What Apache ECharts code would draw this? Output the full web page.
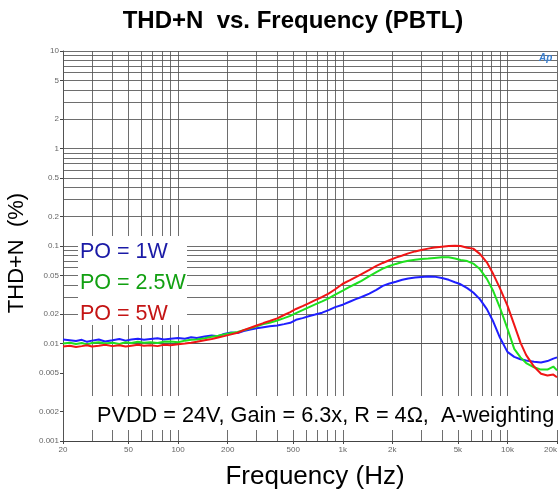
<!DOCTYPE html>
<html>
<head>
<meta charset="utf-8">
<script src="https://cdn.jsdelivr.net/npm/echarts@6/dist/echarts.min.js"></script>
<style>
html,body{margin:0;padding:0;background:#fff;}
#c{width:560px;height:492px;}
</style>
</head>
<body>
<div id="c"></div>
<script>
const freq = [20,22,24,26,28,30,33,36,40,44,48,52,57,62,68,75,82,90,100,110,120,130,145,160,175,190,210,230,250,275,300,330,360,400,440,480,520,570,620,680,750,820,900,1000,1100,1200,1300,1450,1600,1750,1900,2100,2300,2500,2750,3000,3300,3600,4000,4400,4800,5200,5700,6200,6800,7500,8200,9000,10000,11000,12000,13000,14500,16000,17500,19000,20000];

const thd1W = [0.0110,0.0108,0.0106,0.0109,0.0104,0.0107,0.0110,0.0105,0.0108,0.0111,0.0107,0.0110,0.0112,0.0109,0.0111,0.0113,0.0110,0.0112,0.0114,0.0112,0.0116,0.0114,0.0118,0.0121,0.0119,0.0125,0.0130,0.0128,0.0134,0.0139,0.0143,0.0147,0.0150,0.0153,0.0158,0.0163,0.0175,0.0182,0.0190,0.0198,0.0207,0.0220,0.0236,0.0250,0.0268,0.0285,0.0300,0.0325,0.0355,0.0390,0.0410,0.0430,0.0450,0.0465,0.0475,0.0482,0.0487,0.0485,0.0470,0.0450,0.0425,0.0405,0.0370,0.0333,0.0285,0.0225,0.0168,0.0115,0.0082,0.0073,0.0069,0.0067,0.0065,0.0064,0.0066,0.0070,0.0072];

const thd2_5W = [0.0100,0.0102,0.0099,0.0101,0.0098,0.0101,0.0103,0.0100,0.0102,0.0099,0.0103,0.0101,0.0104,0.0102,0.0103,0.0101,0.0104,0.0105,0.0103,0.0107,0.0109,0.0110,0.0113,0.0117,0.0120,0.0124,0.0128,0.0131,0.0137,0.0143,0.0150,0.0158,0.0163,0.0172,0.0182,0.0192,0.0205,0.0220,0.0235,0.0252,0.0270,0.0290,0.0318,0.0349,0.0380,0.0410,0.0440,0.0490,0.0540,0.0585,0.0620,0.0655,0.0685,0.0705,0.0722,0.0735,0.0745,0.0755,0.0765,0.0765,0.0745,0.0720,0.0700,0.0660,0.0580,0.0460,0.0345,0.0234,0.0142,0.0088,0.0072,0.0063,0.0057,0.0054,0.0054,0.0058,0.0053];

const thd5W = [0.0093,0.0095,0.0092,0.0094,0.0096,0.0093,0.0095,0.0097,0.0094,0.0096,0.0093,0.0095,0.0097,0.0095,0.0096,0.0094,0.0097,0.0096,0.0098,0.0100,0.0102,0.0104,0.0108,0.0111,0.0115,0.0119,0.0124,0.0129,0.0137,0.0145,0.0153,0.0162,0.0170,0.0181,0.0196,0.0210,0.0226,0.0242,0.0258,0.0278,0.0300,0.0325,0.0360,0.0410,0.0445,0.0480,0.0515,0.0570,0.0625,0.0670,0.0710,0.0760,0.0800,0.0840,0.0880,0.0910,0.0940,0.0965,0.0985,0.1000,0.1005,0.1000,0.0960,0.0940,0.0830,0.0680,0.0515,0.0370,0.0245,0.0155,0.0102,0.0076,0.0058,0.0049,0.0047,0.0048,0.0045];

const xTickValues = [20,50,100,200,500,1000,2000,5000,10000,20000];
const xTickLabels = ['20','50','100','200','500','1k','2k','5k','10k','20k'];
const yTickValues = [10,5,2,1,0.5,0.2,0.1,0.05,0.02,0.01,0.005,0.002,0.001];
const yTickLabels = ['10','5','2','1','0.5','0.2','0.1','0.05','0.02','0.01','0.005','0.002','0.001'];

const seriesNames = ['PO = 1W','PO = 2.5W','PO = 5W'];

// grid line positions at every 1..9 multiple of each decade
const xGrid = [];
[10,100,1000,10000].forEach(d => { for (let m = 1; m <= 9; m++) { const v = m*d; if (v >= 20 && v <= 20000) xGrid.push(v); } });
const yGrid = [];
[0.001,0.01,0.1,1].forEach(d => { for (let m = 1; m <= 9; m++) yGrid.push(+(m*d).toPrecision(3)); });
yGrid.push(10);

function pair(xs, ys){ return xs.map((x,i)=>[x, ys[i]]); }
function lookup(vals, labels, v){
  let best = 0, bd = Infinity;
  vals.forEach((t,i)=>{ const d = Math.abs(Math.log10(t)-Math.log10(v)); if (d < bd){bd=d;best=i;} });
  return bd < 0.01 ? labels[best] : '';
}

const chart = echarts.init(document.getElementById('c'), null, {renderer:'canvas'});
const FONT = 'Liberation Sans, Arial, sans-serif';

const gridMark = {
  silent: true,
  symbol: ['none','none'],
  label: {show:false},
  lineStyle: {color:'#555', width:1, type:'solid', opacity:0.85},
  data: xGrid.map(v=>({xAxis:v})).concat(yGrid.map(v=>({yAxis:v})))
};

chart.setOption({
  animation: false,
  backgroundColor: '#fff',
  grid: {left:63, right:3, top:51, bottom:51, containLabel:false, outerBoundsMode:'none'},
  xAxis: {
    type:'log', logBase:10, min:20, max:20000,
    name:'Frequency (Hz)', nameLocation:'middle', nameGap:23,
    nameTextStyle:{fontFamily:FONT, fontSize:26, color:'#000', padding:[0,0,0,10]},
    axisLine:{show:true, onZero:false, lineStyle:{color:'#444', width:1}},
    axisTick:{show:true, customValues:xTickValues, length:3, lineStyle:{color:'#444'}},
    axisLabel:{show:true, customValues:xTickValues, fontFamily:FONT, fontSize:8, color:'#666', margin:5,
      alignMaxLabel:'right',
      formatter:(v)=>lookup(xTickValues,xTickLabels,v)},
    splitLine:{show:false}, minorSplitLine:{show:false}
  },
  yAxis: {
    type:'log', logBase:10, min:0.001, max:10,
    name:'THD+N  (%)', nameLocation:'middle', nameGap:31, nameRotate:90,
    nameTextStyle:{fontFamily:FONT, fontSize:22, color:'#000', padding:[0,0,0,-14]},
    axisLine:{show:true, onZero:false, lineStyle:{color:'#444', width:1}},
    axisTick:{show:true, customValues:yTickValues, length:3, lineStyle:{color:'#444'}},
    axisLabel:{show:true, customValues:yTickValues, fontFamily:FONT, fontSize:8, color:'#666', margin:4,
      formatter:(v)=>lookup(yTickValues,yTickLabels,v)},
    splitLine:{show:false}, minorSplitLine:{show:false}
  },
  series: [
    {type:'line', name:'grid', data:[[20,0.001]], showSymbol:false, symbol:'none',
      lineStyle:{opacity:0}, z:1, markLine:gridMark, silent:true},
    {type:'line', name:seriesNames[0], data:pair(freq,thd1W), showSymbol:false, symbol:'none',
      lineStyle:{color:'#1f1fff', width:2}, z:5},
    {type:'line', name:seriesNames[1], data:pair(freq,thd2_5W), showSymbol:false, symbol:'none',
      lineStyle:{color:'#1fe01f', width:2}, z:5},
    {type:'line', name:seriesNames[2], data:pair(freq,thd5W), showSymbol:false, symbol:'none',
      lineStyle:{color:'#f01515', width:2}, z:6}
  ],
  graphic: [
    {type:'text', x:293, y:21, z:10,
      style:{text:'THD+N  vs. Frequency (PBTL)', fontFamily:FONT, fontSize:24, fontWeight:'bold', fill:'#000', align:'center', verticalAlign:'middle'}},
    {type:'rect', shape:{x:78, y:236, width:109, height:89}, style:{fill:'#fff'}, z:50},
    {type:'text', x:80, y:252, z:51, style:{text:seriesNames[0], fontFamily:FONT, fontSize:21.5, fill:'#1a1aa6', verticalAlign:'middle'}},
    {type:'text', x:80, y:283, z:51, style:{text:seriesNames[1], fontFamily:FONT, fontSize:21.5, fill:'#12a012', verticalAlign:'middle'}},
    {type:'text', x:80, y:314, z:51, style:{text:seriesNames[2], fontFamily:FONT, fontSize:21.5, fill:'#c41414', verticalAlign:'middle'}},
    {type:'rect', shape:{x:87, y:396, width:471, height:34}, style:{fill:'#fff'}, z:50},
    {type:'text', x:97, y:416, z:51, style:{text:'PVDD = 24V, Gain = 6.3x, R = 4\u03A9,  A-weighting', fontFamily:FONT, fontSize:21.7, fill:'#000', verticalAlign:'middle'}},
    {type:'text', x:539, y:58, z:51, style:{text:'Ap', fontFamily:FONT, fontSize:10, fontStyle:'italic', fontWeight:'bold', fill:'#3a7fd0', verticalAlign:'middle'}}
  ]
});
</script>
</body>
</html>
